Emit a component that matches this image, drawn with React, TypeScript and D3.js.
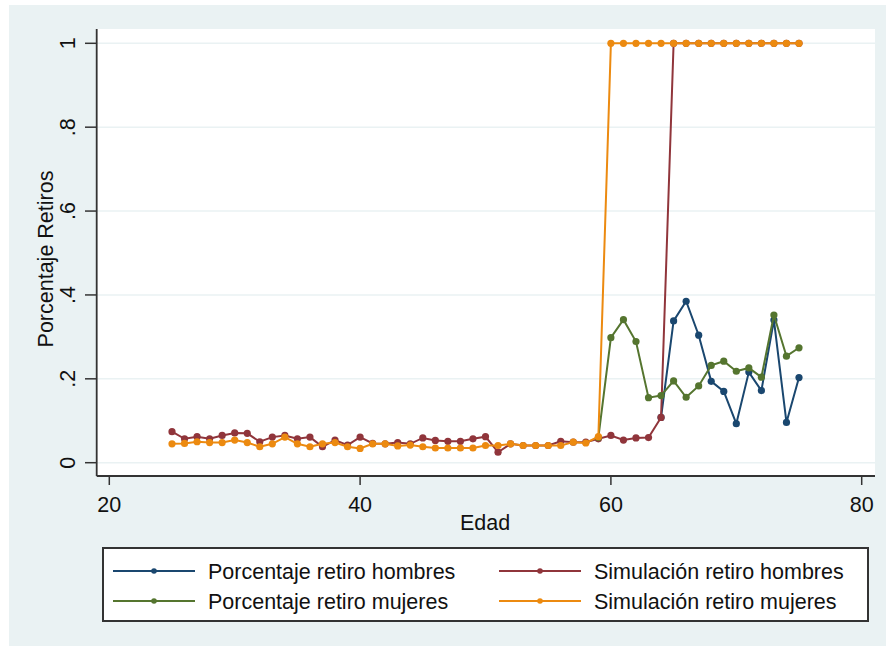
import React from "react";
import * as d3 from "d3";

const ageLow = d3.range(25, 76);
const simHombres = [
  0.074, 0.057, 0.062, 0.057, 0.065, 0.071, 0.07, 0.05, 0.061, 0.065,
  0.057, 0.061, 0.038, 0.054, 0.042, 0.061, 0.046, 0.045, 0.048, 0.045,
  0.059, 0.053, 0.051, 0.051, 0.057, 0.062, 0.025, 0.045, 0.041, 0.041,
  0.041, 0.051, 0.049, 0.049, 0.057, 0.065, 0.054, 0.059, 0.06, 0.108,
  1, 1, 1, 1, 1, 1, 1, 1, 1, 1, 1,
];
const simMujeres = [
  0.045, 0.046, 0.05, 0.048, 0.048, 0.054, 0.048, 0.038, 0.045, 0.061,
  0.045, 0.038, 0.045, 0.048, 0.038, 0.034, 0.045, 0.045, 0.04, 0.042,
  0.038, 0.035, 0.035, 0.035, 0.035, 0.041, 0.041, 0.045, 0.041, 0.041,
  0.041, 0.041, 0.049, 0.047, 0.062, 1, 1, 1, 1, 1,
  1, 1, 1, 1, 1, 1, 1, 1, 1, 1, 1,
];
const ageHombres = d3.range(64, 76);
const pctHombres = [0.108, 0.338, 0.385, 0.304, 0.194, 0.17, 0.093, 0.216, 0.172, 0.34, 0.096, 0.203];
const ageMujeres = d3.range(59, 76);
const pctMujeres = [
  0.06, 0.298, 0.341, 0.289, 0.155, 0.16, 0.195, 0.156, 0.183, 0.232,
  0.242, 0.218, 0.226, 0.204, 0.352, 0.254, 0.274,
];

const xTicks = [20, 40, 60, 80];
const yTicks = [0, 0.2, 0.4, 0.6, 0.8, 1];
const yTickLabels = ["0", ".2", ".4", ".6", ".8", "1"];

const series = [
  { name: "Porcentaje retiro hombres", ages: ageHombres, values: pctHombres, color: "#1a476f" },
  { name: "Simulación retiro hombres", ages: ageLow, values: simHombres, color: "#90353b" },
  { name: "Porcentaje retiro mujeres", ages: ageMujeres, values: pctMujeres, color: "#55752f" },
  { name: "Simulación retiro mujeres", ages: ageLow, values: simMujeres, color: "#ec8a10" },
];

const W = 886;
const H = 646;
const plot = { left: 96.7, right: 875, top: 29, bottom: 476 };

export default function App() {
  const x = d3.scaleLinear().domain([20, 80]).range([109.3, 861.7]);
  const y = d3.scaleLinear().domain([0, 1]).range([462.7, 43.3]);
  const line = d3
    .line<[number, number]>()
    .x((d) => x(d[0]))
    .y((d) => y(d[1]));
  const font = "'Liberation Sans', Arial, sans-serif";
  const fs = 21.5;
  const legendPos = [
    { lx: 113, tx: 208, ty: 571 },
    { lx: 499, tx: 594, ty: 571 },
    { lx: 113, tx: 208, ty: 601 },
    { lx: 499, tx: 594, ty: 601 },
  ];
  return (
    <div style={{ position: "fixed", left: 0, top: 0 }}>
      <svg width={W} height={H} style={{ display: "block" }} fontFamily={font}>
        <rect x={0} y={0} width={W} height={H} fill="#ffffff" />
        <rect x={9} y={5} width={W - 9} height={H - 5} fill="#eaf2f3" />
        <rect x={plot.left} y={plot.top} width={plot.right - plot.left} height={plot.bottom - plot.top} fill="#ffffff" />
        {yTicks.map((t) => (
          <line key={"g" + t} x1={plot.left} x2={plot.right} y1={y(t)} y2={y(t)} stroke="#eaf2f3" strokeWidth={1.6} />
        ))}
        {series.map((s) => {
          const pts = s.ages.map((a, i) => [a, s.values[i]] as [number, number]);
          return (
            <g key={s.name}>
              <path d={line(pts) || ""} fill="none" stroke={s.color} strokeWidth={2} />
              {pts.map((p, i) => (
                <circle key={i} cx={x(p[0])} cy={y(p[1])} r={3.6} fill={s.color} />
              ))}
            </g>
          );
        })}
        {/* axes */}
        <line x1={plot.left} x2={plot.left} y1={plot.top} y2={plot.bottom} stroke="#333" strokeWidth={1.8} />
        <line x1={plot.left} x2={plot.right} y1={plot.bottom} y2={plot.bottom} stroke="#333" strokeWidth={1.8} />
        {yTicks.map((t, i) => (
          <g key={"yt" + t}>
            <line x1={85} x2={plot.left} y1={y(t)} y2={y(t)} stroke="#333" strokeWidth={1.5} />
            <text
              transform={`translate(75,${y(t)}) rotate(-90)`}
              textAnchor="middle"
              fontSize={fs}
              fill="#111"
            >
              {yTickLabels[i]}
            </text>
          </g>
        ))}
        {xTicks.map((t) => (
          <g key={"xt" + t}>
            <line x1={x(t)} x2={x(t)} y1={plot.bottom} y2={485} stroke="#333" strokeWidth={1.5} />
            <text x={x(t)} y={512} textAnchor="middle" fontSize={fs} fill="#111">
              {t}
            </text>
          </g>
        ))}
        <text x={485} y={530} textAnchor="middle" fontSize={fs} fill="#111">
          Edad
        </text>
        <text transform={`translate(53,259) rotate(-90)`} textAnchor="middle" fontSize={fs} fill="#111">
          Porcentaje Retiros
        </text>
        {/* legend */}
        <rect x={103} y={548} width={765} height={73} fill="#ffffff" stroke="#333" strokeWidth={2} />
        {series.map((s, i) => {
          const p = legendPos[i];
          return (
            <g key={"lg" + i}>
              <line x1={p.lx} x2={p.lx + 82} y1={p.ty} y2={p.ty} stroke={s.color} strokeWidth={2} />
              <circle cx={p.lx + 41} cy={p.ty} r={2.8} fill={s.color} />
              <text x={p.tx} y={p.ty + 7.5} fontSize={fs} fill="#111">
                {s.name}
              </text>
            </g>
          );
        })}
      </svg>
    </div>
  );
}
